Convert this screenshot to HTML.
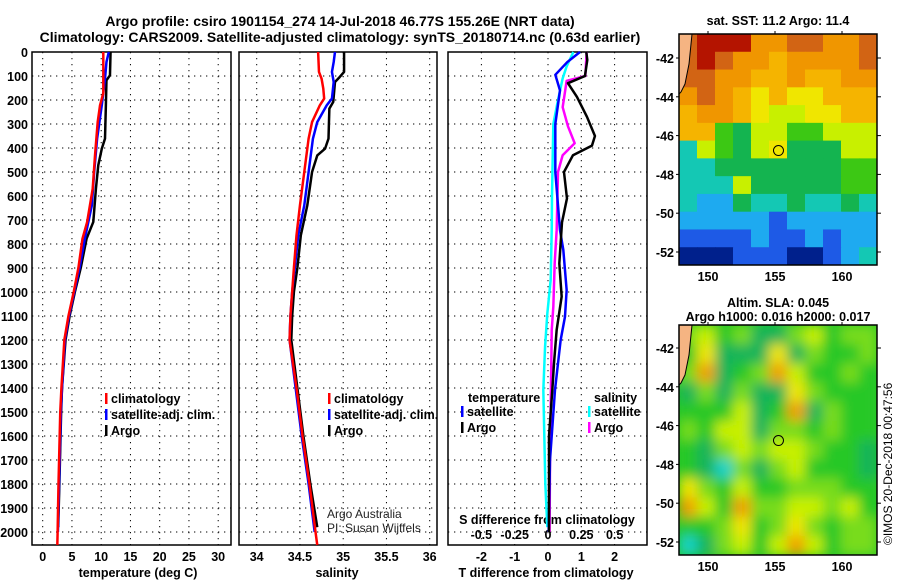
<!DOCTYPE html>
<html><head><meta charset="utf-8"><style>
body{margin:0;background:#fff}
svg{display:block}
text{font-family:"Liberation Sans",sans-serif;font-weight:bold;font-size:12.5px;fill:#000}
.t{font-size:14px}
.g{stroke:#000;stroke-width:1;stroke-dasharray:1.3 4.7}
</style></head><body>
<svg id="s" width="900" height="580" viewBox="0 0 900 580">
<defs>
<filter id="blur" x="-10%" y="-10%" width="120%" height="120%"><feGaussianBlur stdDeviation="6"/></filter>
<clipPath id="clip2"><rect x="679" y="325" width="198" height="230"/></clipPath>
</defs>
<text class="t" x="340" y="26" text-anchor="middle">Argo profile: csiro 1901154_274 14-Jul-2018 46.77S 155.26E (NRT data)</text>
<text class="t" x="340" y="42" text-anchor="middle">Climatology: CARS2009. Satellite-adjusted climatology: synTS_20180714.nc (0.63d earlier)</text>
<g id="p1"></g>
<g id="p2"></g>
<g id="p3"></g>
<g id="m1"></g>
<g id="m2"></g>
<text x="0" y="0" transform="translate(892,545) rotate(-90)" style="font-weight:normal;font-size:12px">©IMOS 20-Dec-2018 00:47:56</text>
</svg>
<script>
const depthTicks=[0,100,200,300,400,500,600,700,800,900,1000,1100,1200,1300,1400,1500,1600,1700,1800,1900,2000];
const tempTicks=[0,5,10,15,20,25,30];
const salTicks=[34,34.5,35,35.5,36];
const tdTicks=[-2,-1,0,1,2];
const sdTicks=[-0.5,-0.25,0,0.25,0.5];
const sdTickLabels=["-0.5","-0.25","0","0.25","0.5"];
const tempClim=[[0,10.36],[171,10.36],[222,9.8],[292,9.4],[431,8.94],[569,8.55],[708,7.6],[778,6.8],[900,6.1],[1000,5.3],[1100,4.4],[1200,3.7],[1400,3.2],[1500,3.0],[1600,2.9],[1800,2.7],[2000,2.55],[2054,2.5]];
const tempSat=[[0,11.3],[42,10.9],[111,10.65],[222,10.1],[361,9.3],[500,8.8],[639,8.4],[778,7.2],[900,6.3],[1000,5.4],[1100,4.5],[1200,3.8],[1400,3.3],[1500,3.1],[1600,3.0],[1800,2.8],[2000,2.6]];
const tempArgo=[[0,11.6],[97,11.5],[118,10.9],[222,10.8],[361,10.65],[403,10.1],[472,9.5],[569,9.1],[708,8.65],[778,7.5],[900,6.5],[1000,5.5],[1100,4.6],[1200,3.9],[1400,3.3],[1500,3.15],[1600,3.05],[1800,2.85],[1980,2.65]];
const salClim=[[0,34.71],[83,34.72],[111,34.75],[153,34.77],[194,34.78],[222,34.73],[292,34.64],[361,34.6],[500,34.55],[639,34.5],[764,34.46],[900,34.43],[1000,34.41],[1100,34.39],[1200,34.38],[1400,34.46],[1600,34.53],[1800,34.61],[2000,34.68],[2054,34.7]];
const salSat=[[0,34.905],[42,34.89],[83,34.87],[125,34.89],[194,34.87],[222,34.81],[292,34.7],[361,34.65],[500,34.6],[639,34.55],[764,34.48],[900,34.44],[1000,34.41],[1100,34.39],[1200,34.38],[1400,34.45],[1600,34.52],[1800,34.6],[2000,34.67]];
const salArgo=[[0,35.01],[83,35.01],[104,34.96],[125,34.905],[208,34.885],[236,34.84],[361,34.83],[403,34.79],[431,34.7],[500,34.64],[639,34.585],[764,34.51],[900,34.47],[1000,34.43],[1100,34.41],[1200,34.4],[1400,34.47],[1600,34.54],[1800,34.62],[1980,34.7]];
const tdSat=[[0,0.96],[42,0.58],[95,0.22],[160,0.36],[300,0.22],[500,0.22],[742,0.36],[825,0.46],[992,0.56],[1103,0.51],[1200,0.38],[1408,0.21],[1700,0.06],[2000,0.02]];
const tdArgo=[[0,1.15],[33,1.18],[100,1.11],[130,0.6],[187,0.87],[270,1.17],[350,1.41],[390,1.32],[430,0.75],[500,0.48],[610,0.57],[710,0.42],[881,0.34],[1019,0.41],[1158,0.26],[1297,0.18],[1408,0.13],[1600,0.03],[2000,0.03]];
const sdSat=[[0,0.19],[60,0.14],[110,0.11],[200,0.075],[300,0.04],[600,0.03],[742,0.028],[950,0.02],[1089,-0.005],[1228,-0.022],[1408,-0.035],[1800,-0.02],[1980,-0.005]];
const sdArgo=[[0,0.29],[100,0.28],[120,0.14],[230,0.11],[310,0.15],[380,0.2],[430,0.11],[500,0.075],[742,0.065],[881,0.05],[1061,0.04],[1158,0.028],[1408,0.022],[1700,0.015],[2000,0.012]];
const sstPal=["#00208c","#1e5ae6","#1eaaf0","#14c8b4","#14b450","#3cc814","#c8f000","#f0e600","#f5b400","#f09600","#d26414","#b41400"];
const sstGrid=[
[10,11,11,11,9,9,10,10,9,9,10],
[10,11,10,9,9,8,9,9,9,9,10],
[10,10,9,9,8,8,9,8,8,9,9],
[9,10,9,8,7,8,7,7,8,8,8],
[8,9,9,8,7,6,6,7,7,8,8],
[8,8,5,4,6,6,5,5,6,6,6],
[3,6,5,4,6,7,4,4,4,6,6],
[3,3,4,4,4,4,4,4,4,5,5],
[3,3,3,6,4,4,4,4,4,5,5],
[3,2,2,4,3,3,4,3,3,4,3],
[2,2,2,2,2,1,2,2,2,2,2],
[1,1,1,1,2,1,1,2,1,2,2],
[0,0,0,1,1,1,0,0,1,2,3]];
const slaPal=["#14d2c8","#14b45a","#28c828","#78dc1e","#c8f000","#f0e600","#f0a000"];
const slaGrid=[
[3,4,2,3,1,1,3,4,2,3,3],
[2,5,1,1,1,5,1,3,2,2,3],
[3,6,1,2,3,6,4,2,2,3,2],
[1,3,1,3,1,1,5,3,2,2,2],
[2,2,2,4,1,2,6,1,3,2,2],
[3,2,4,4,1,3,3,2,3,2,2],
[2,1,3,4,3,4,4,3,2,2,1],
[2,1,0,3,1,3,4,2,2,2,1],
[5,3,2,4,2,2,3,3,3,2,2],
[6,4,2,6,3,3,4,4,3,4,2],
[2,2,3,5,2,3,5,3,2,3,3],
[0,1,3,4,2,4,6,4,2,3,3]];
const mapLatTicks=[-42,-44,-46,-48,-50,-52];
const mapLonTicks=[150,155,160];
const argoPos=[155.26,-46.77];

const NS="http://www.w3.org/2000/svg";
function mk(p,tag,a){const e=document.createElementNS(NS,tag);for(const k in a)e.setAttribute(k,a[k]);p.appendChild(e);return e;}
const Y=d=>52+d*0.24;
const pTop=52,pBot=545;
function frame(g,x0,x1,xf,ticks,labels){
  depthTicks.forEach(d=>{const l=mk(g,'line',{x1:x0,x2:x1,y1:Y(d),y2:Y(d),class:'g'});
    
    });
  ticks.forEach(v=>{const l=mk(g,'line',{x1:xf(v),x2:xf(v),y1:pTop,y2:pBot,class:'g'});
    
    });
  ticks.forEach((v,i)=>{const t=mk(g,'text',{x:xf(v),y:561,'text-anchor':'middle'});t.textContent=labels[i];
    
    });
  const r=mk(g,'rect',{x:x0,y:pTop,width:x1-x0,height:pBot-pTop,fill:'none',stroke:'#000','stroke-width':1.5});
  
  
}
function line(g,data,xf,col,w,name){
  const pts=data.map(p=>xf(p[1])+','+Y(p[0]));
  const l=mk(g,'polyline',{points:pts.join(' '),fill:'none',stroke:col,'stroke-width':w,'stroke-linejoin':'round'});
  
  
}
function legend(g,x,y,items){items.forEach((it,i)=>{
  const yy=y+i*16;
  const b=mk(g,'rect',{x:x,y:yy-10,width:2.5,height:11,fill:it[1]});
  
  
  const t=mk(g,'text',{x:x+6,y:yy});t.textContent=it[0];
  
  
});}
function label(g,x,y,txt,name,anchor,style){
  const a={x:x,y:y};if(anchor)a['text-anchor']=anchor;if(style)a.style=style;
  const t=mk(g,'text',a);t.textContent=txt;
  
  
  return t;
}
const p1=document.getElementById('p1');
const xT=v=>42.7+v*5.85;
frame(p1,32,231,xT,tempTicks,tempTicks.map(String));
depthTicks.forEach(d=>label(p1,28,Y(d)+5,String(d),'depth-tick-label','end'));
line(p1,tempArgo,xT,'#000',2.5,'temp-argo-line');
line(p1,tempSat,xT,'#0000ff',2.5,'temp-satellite-line');
line(p1,tempClim,xT,'#ff0000',2.5,'temp-climatology-line');
legend(p1,105,403,[["climatology","#f00"],["satellite-adj. clim.","#00f"],["Argo","#000"]]);
label(p1,138,577,'temperature (deg C)','x-axis-title','middle');
const p2=document.getElementById('p2');
const xS=v=>256.7+(v-34)*86.5;
frame(p2,239,437,xS,salTicks,["34","34.5","35","35.5","36"]);
line(p2,salArgo,xS,'#000',2.5,'sal-argo-line');
line(p2,salSat,xS,'#0000ff',2.5,'sal-satellite-line');
line(p2,salClim,xS,'#ff0000',2.5,'sal-climatology-line');
legend(p2,328,403,[["climatology","#f00"],["satellite-adj. clim.","#00f"],["Argo","#000"]]);
label(p2,337,577,'salinity','x-axis-title','middle');
label(p2,327,518,'Argo Australia','credit-text',null,'font-weight:normal;font-size:12px;fill:#222');
label(p2,327,532,'PI: Susan Wijffels','credit-text',null,'font-weight:normal;font-size:12px;fill:#222');
const p3=document.getElementById('p3');
const xD=v=>548+v*33.3;
const xSD=v=>548+v*133.3;
frame(p3,448,647,xD,tdTicks,tdTicks.map(String));
sdTicks.forEach((v,i)=>label(p3,xSD(v),539,sdTickLabels[i],'s-diff-tick-label','middle'));
label(p3,547,524,'S difference from climatology','s-diff-axis-title','middle');
line(p3,sdSat,xSD,'#00ffff',2.5,'sal-diff-satellite-line');
line(p3,sdArgo,xSD,'#ff00ff',2.5,'sal-diff-argo-line');
line(p3,tdSat,xD,'#0000ff',2.5,'temp-diff-satellite-line');
line(p3,tdArgo,xD,'#000',2.5,'temp-diff-argo-line');
label(p3,468,402,'temperature','legend-title-temperature');
legend(p3,461,416,[["satellite","#00f"],["Argo","#000"]]);
label(p3,594,402,'salinity','legend-title-salinity');
legend(p3,588,416,[["satellite","#0ff"],["Argo","#f0f"]]);
label(p3,546,577,'T difference from climatology','x-axis-title','middle');
function map(g,y0,y1,latRef,grid,pal,title,title2,smooth){
  const x0=679,x1=877;
  const lon=v=>708+(v-150)*13.4;
  const lat=v=>latRef+(-42-v)*19.4;
  const rows=grid.length,cols=grid[0].length;
  const cw=(x1-x0)/cols,rh=(y1-y0)/rows;
  let cg=g;
  if(smooth){const outer=mk(g,'g',{'clip-path':'url(#clip2)'});
    
    
    mk(outer,'rect',{x:x0,y:y0,width:x1-x0,height:y1-y0,fill:'#28c828'});
    cg=mk(outer,'g',{filter:'url(#blur)'});}
  grid.forEach((row,r)=>row.forEach((c,k)=>{const e=mk(cg,'rect',{x:x0+k*cw,y:y0+r*rh,width:cw+0.5,height:rh+0.5,fill:pal[c]});
    
    }));
  const land=mk(g,'path',{d:`M${x0} ${y0} L${x0+13} ${y0} L${x0+10} ${y0+30} L${x0+6} ${y0+50} L${x0+2} ${y0+58} L${x0} ${y0+60} Z`,fill:'#f5b482',stroke:'#000','stroke-width':1});
  
  
  const c=mk(g,'circle',{cx:lon(argoPos[0]),cy:lat(argoPos[1]),r:5,fill:'none',stroke:'#000','stroke-width':1});
  
  
  const fr=mk(g,'rect',{x:x0,y:y0,width:x1-x0,height:y1-y0,fill:'none',stroke:'#000','stroke-width':1.5});
  
  
  mapLatTicks.forEach(v=>{label(g,674,lat(v)+5,String(v),'lat-tick-label','end');
    mk(g,'line',{x1:x1,x2:x1+4,y1:lat(v),y2:lat(v),stroke:'#000'});mk(g,'line',{x1:x0-3,x2:x0,y1:lat(v),y2:lat(v),stroke:'#000'});});
  mapLonTicks.forEach(v=>{label(g,lon(v),y1+16,String(v),'lon-tick-label','middle');
    mk(g,'line',{x1:lon(v),x2:lon(v),y1:y0-3,y2:y0,stroke:'#000'});});
  label(g,778,title2?y0-18:y0-9,title,'map-title','middle');
  if(title2)label(g,778,y0-4,title2,'map-subtitle','middle');
}
map(document.getElementById('m1'),34,265,58,sstGrid,sstPal,'sat. SST: 11.2 Argo: 11.4',null,false);
map(document.getElementById('m2'),325,555,348,slaGrid,slaPal,'Altim. SLA: 0.045','Argo h1000: 0.016 h2000: 0.017',true);
</script>
</body></html>
